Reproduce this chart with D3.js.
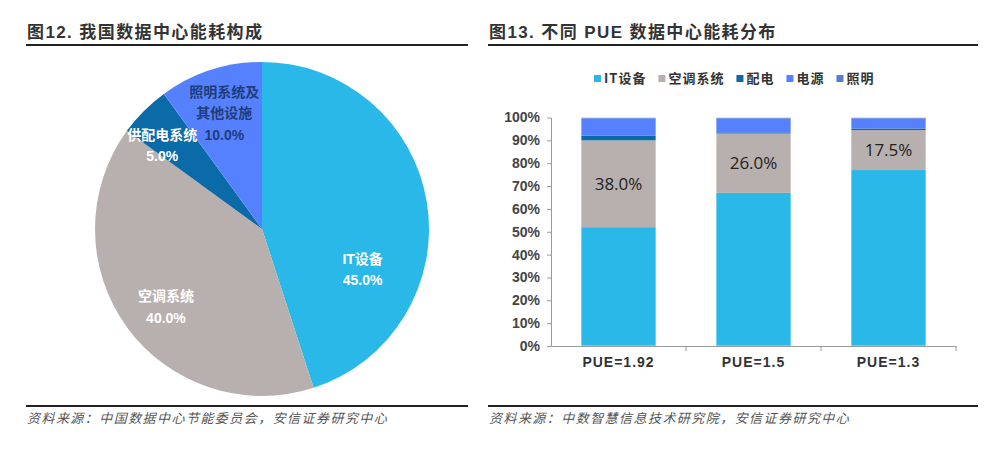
<!DOCTYPE html>
<html><head><meta charset="utf-8">
<script src="https://cdn.jsdelivr.net/npm/d3@7/dist/d3.min.js"></script>
<style>
html,body{margin:0;padding:0;background:#fff;}
svg{display:block;}
</style></head>
<body><svg id="c" width="1000" height="451"></svg>
<script>
// ---- data ----
const pieCategories = ["IT设备", "空调系统", "供配电系统", "照明系统及其他设施"];
const pieValues = [45, 40, 5, 10];
const pieLabelLines = [["IT设备"], ["空调系统"], ["供配电系统"], ["照明系统及", "其他设施"]];

const barCategories = ["PUE=1.92", "PUE=1.5", "PUE=1.3"];
const seriesNames = ["IT设备", "空调系统", "配电", "电源", "照明"];
const itValues = [52, 67, 77];
const acValues = [38, 26, 17.5];
const pdValues = [2, 0.5, 0.7];
const psValues = [7.5, 6, 4.3];
const ltValues = [0.5, 0.5, 0.5];
const yTicks = [0, 10, 20, 30, 40, 50, 60, 70, 80, 90, 100];

const titles = ["图12. 我国数据中心能耗构成", "图13. 不同 PUE 数据中心能耗分布"];
const sources = ["资料来源：中国数据中心节能委员会，安信证券研究中心", "资料来源：中数智慧信息技术研究院，安信证券研究中心"];

// ---- styles ----
const pieColors = ["#29b8e8", "#b8b0af", "#0b6aa8", "#5580ff"];
const barColors = ["#29b8e8", "#b8b0af", "#0b6aa8", "#5580ff", "#5b7bd0"];
const cjk = "'Noto Sans CJK SC','Noto Sans',sans-serif";
const svg = d3.select("#c");

// titles, rules, sources
const panels = [{x0: 26, x1: 468}, {x0: 488, x1: 978}];
panels.forEach((p, i) => {
  svg.append("text").attr("x", p.x0 + 1).attr("y", 38).text(titles[i])
    .attr("font-family", "Arial,'Liberation Sans'," + cjk).attr("font-weight", "bold")
    .attr("font-size", 17).attr("fill", "#333").attr("letter-spacing", 1.4);
  svg.append("line").attr("x1", p.x0).attr("x2", p.x1).attr("y1", 45).attr("y2", 45)
    .attr("stroke", "#222").attr("stroke-width", 2);
  svg.append("line").attr("x1", p.x0).attr("x2", p.x1).attr("y1", 406).attr("y2", 406)
    .attr("stroke", "#222").attr("stroke-width", 2);
  svg.append("text").attr("x", p.x0 + 1).attr("y", 423).text(sources[i])
    .attr("font-family", cjk).attr("font-style", "italic").attr("font-size", 13)
    .attr("fill", "#555").attr("letter-spacing", 1.45);
});

// ---- pie ----
const cx = 262, cy = 229, R = 167;
const pieG = svg.append("g").attr("transform", `translate(${cx},${cy})`);
const pie = d3.pie().sort(null).value(d => d)(pieValues);
const arc = d3.arc().innerRadius(0).outerRadius(R);
pieG.selectAll("path").data(pie).join("path")
  .attr("d", arc).attr("fill", (d, i) => pieColors[i]);

const labelPolar = [{a: 112, r: 0.65}, {a: 231, r: 0.74}, {a: 310, r: 0.78}, {a: 342, r: 0.73}];
const labelColors = ["#fff", "#fff", "#fff", "#1f3d78"];
pie.forEach((d, i) => {
  const a = labelPolar[i].a * Math.PI / 180, r = labelPolar[i].r * R;
  const x = Math.sin(a) * r, y = -Math.cos(a) * r;
  const lines = pieLabelLines[i].concat([d3.format(".1f")(d.value) + "%"]);
  const lh = 21.5;
  const t = pieG.append("text").attr("text-anchor", "middle")
    .attr("font-family", "Arial,'Liberation Sans'," + cjk).attr("font-weight", "bold")
    .attr("font-size", 14).attr("fill", labelColors[i]);
  lines.forEach((ln, k) => {
    t.append("tspan").attr("x", x).attr("y", y + (k - (lines.length - 1) / 2) * lh + 5).text(ln);
  });
});

// ---- stacked bars ----
const x = d3.scaleBand().domain(barCategories).range([551, 956]).paddingInner(0.445).paddingOuter(0.2225);
const y = d3.scaleLinear().domain([0, 100]).range([346, 117.5]);
const seriesData = [itValues, acValues, pdValues, psValues, ltValues];
const rows = barCategories.map((c, i) => {
  const o = {cat: c};
  seriesNames.forEach((s, k) => o[s] = seriesData[k][i]);
  return o;
});
const stack = d3.stack().keys(seriesNames)(rows);
const barG = svg.append("g");
barG.selectAll("g").data(stack).join("g").attr("fill", (d, i) => barColors[i])
  .selectAll("rect").data(d => d).join("rect")
  .attr("x", d => x(d.data.cat)).attr("width", x.bandwidth())
  .attr("y", d => y(d[1])).attr("height", d => Math.max(0, y(d[0]) - y(d[1])));
// outline of bars
barG.selectAll("rect.out").data(rows).join("rect").attr("class", "out")
  .attr("x", d => x(d.cat)).attr("width", x.bandwidth())
  .attr("y", y(100)).attr("height", y(0) - y(100))
  .attr("fill", "none").attr("stroke", "#fff").attr("stroke-opacity", 0.6).attr("stroke-width", 1);

// AC labels
barG.selectAll("text.v").data(stack[1]).join("text").attr("class", "v")
  .attr("x", d => x(d.data.cat) + x.bandwidth() / 2)
  .attr("y", d => (y(d[0]) + y(d[1])) / 2 + 6)
  .attr("text-anchor", "middle").attr("font-family", "'Open Sans','Noto Sans',sans-serif")
  .attr("font-size", 17).attr("fill", "#222")
  .text(d => d3.format(".1f")(d[1] - d[0]) + "%");

// axes
const yAxis = svg.append("g").attr("transform", "translate(551,0)")
  .call(d3.axisLeft(y).tickValues(yTicks).tickSize(4).tickSizeOuter(0).tickFormat(d => d + "%"));
yAxis.select(".domain").attr("stroke", "#999");
yAxis.selectAll(".tick line").attr("stroke", "#999");
yAxis.selectAll(".tick text").attr("x", -11).attr("font-family", "Arial,'Liberation Sans',sans-serif")
  .attr("font-size", 14).attr("font-weight", "bold").attr("fill", "#444");

const xAxis = svg.append("g").attr("transform", "translate(0,346)")
  .call(d3.axisBottom(x).tickSize(0).tickSizeOuter(0));
xAxis.select(".domain").attr("stroke", "#999");
xAxis.selectAll(".tick text").attr("y", 11).attr("font-family", "Arial,'Liberation Sans',sans-serif")
  .attr("font-size", 14).attr("font-weight", "bold").attr("fill", "#333").attr("letter-spacing", 1);
// separator ticks between categories
const seps = barCategories.slice(1).map(c => x(c) - x.step() * x.paddingInner() / 2).concat([956]);
xAxis.selectAll("line.sep").data(seps).join("line").attr("class", "sep")
  .attr("x1", d => d).attr("x2", d => d).attr("y1", 0).attr("y2", 5).attr("stroke", "#999");

// legend
const legend = svg.append("g").attr("font-family", cjk).attr("font-size", 13).attr("font-weight", "bold").attr("fill", "#333");
let lx = 594;
seriesNames.forEach((s, i) => {
  if (i > 0) lx += 12;
  legend.append("rect").attr("x", lx).attr("y", 75).attr("width", 7).attr("height", 7).attr("fill", barColors[i]);
  const t = legend.append("text").attr("x", lx + 10).attr("y", 83).attr("letter-spacing", 1).text(s);
  lx += 10 + t.node().getComputedTextLength();
});
</script>
</body></html>
